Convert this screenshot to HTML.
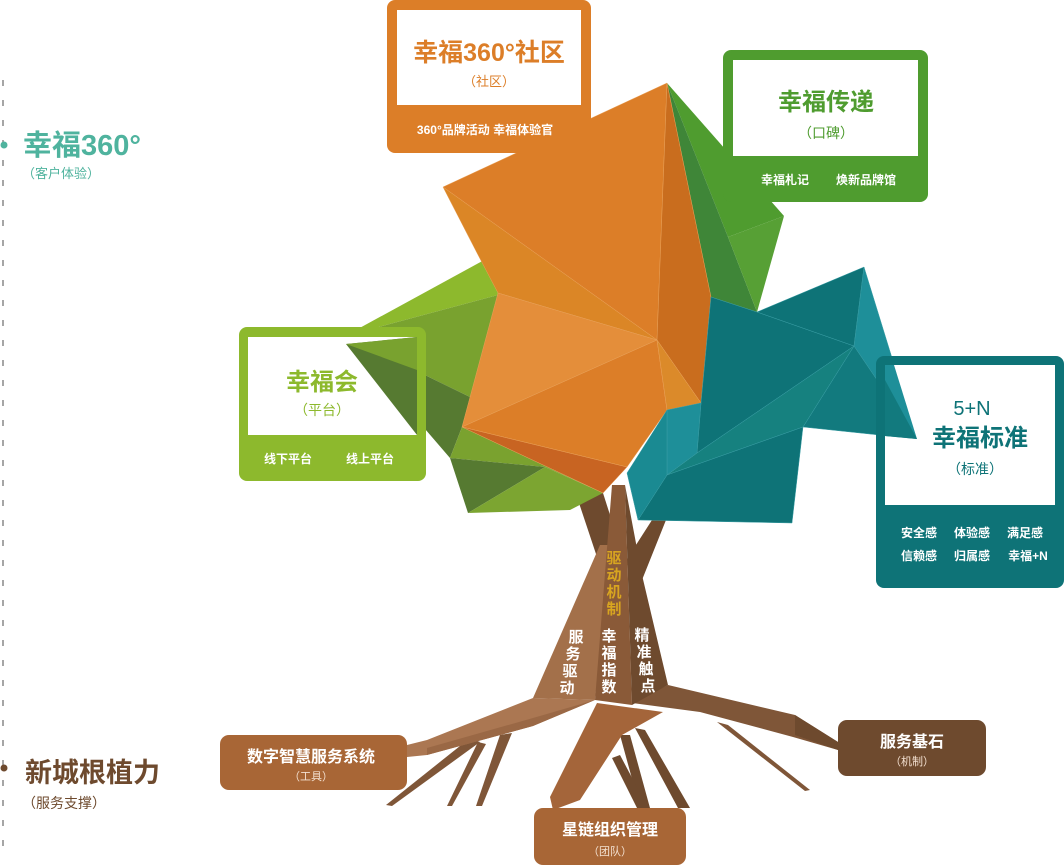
<!DOCTYPE html>
<html><head><meta charset="utf-8"><style>
html,body{margin:0;padding:0;background:#fff;}
svg{display:block;}
text{font-family:"Liberation Sans","Noto Sans CJK SC",sans-serif;}
.b{font-weight:bold;}
</style></head><body>
<svg width="1064" height="867" viewBox="0 0 1064 867" xmlns="http://www.w3.org/2000/svg">
<line x1="3" y1="80" x2="3" y2="860" stroke="#888" stroke-width="1.5" stroke-dasharray="6,14"/>
<circle cx="4" cy="145" r="3.5" fill="#4fb39e"/>
<circle cx="4" cy="768" r="3.5" fill="#6e4a2e"/>
<text class="b" x="23" y="155" font-size="29" fill="#4fb39e">幸福360°</text>
<text x="22" y="178" font-size="13" fill="#4fb39e">（客户体验）</text>
<text class="b" x="25" y="782" font-size="27" fill="#6e4a2e">新城根植力</text>
<text x="22" y="808" font-size="14" fill="#6e4a2e">（服务支撑）</text>

<g stroke="none">
<polygon points="470,738 480,742 392,806 386,805" fill="#7f5638"/>
<polygon points="478,742 486,744 452,806 447,806" fill="#7f5638"/>
<polygon points="500,735 512,733 482,806 476,806" fill="#7f5638"/>
<polygon points="620,735 630,735 650,808 640,808" fill="#6e4a2e"/>
<polygon points="635,728 645,730 690,808 678,808" fill="#6e4a2e"/>
<polygon points="612,758 620,755 648,808 638,810" fill="#6e4a2e"/>
<polygon points="717,722 728,725 810,790 805,791" fill="#7f5638"/>
<polygon points="533,698 595,700 533,726 427,755 407,757 407,745 427,740" fill="#ab7752"/>
<polygon points="595,700 533,726 427,755 427,748 533,718" fill="#9a6845"/>
<polygon points="597,703 663,712 622,735 580,800 553,810 550,797" fill="#a4653a"/>
<polygon points="632,703 668,685 795,715 838,742 838,750 793,737 700,712" fill="#7f5638"/>
<polygon points="795,715 838,742 838,750 795,735" fill="#6e4a2e"/>
</g>
<polygon points="578,500 603,493 625,562 604,578" fill="#6e4a2e"/>
<polygon points="652,520 666,520 642,580 625,562" fill="#6e4a2e"/>
<polygon points="600,545 612,545 595,700 533,698" fill="#a3704a"/>
<polygon points="612,485 625,485 632,705 595,700" fill="#8a5a38"/>
<polygon points="625,485 642,575 668,685 632,705" fill="#6e4a2e"/>

<polygon points="345,336 497,253 498,295" fill="#8db92d"/>
<polygon points="345,336 498,295 476,400" fill="#79a22f"/>
<polygon points="345,336 476,400 462,427 450,458" fill="#567a31"/>
<polygon points="462,427 450,458 545,467 603,493" fill="#7aa22f"/>
<polygon points="450,458 468,513 545,467" fill="#567a31"/>
<polygon points="468,513 570,510 603,493 545,467" fill="#7ca531"/>

<polygon points="667,83 784,216 728,237" fill="#4f9c2f"/>
<polygon points="667,83 728,237 757,312 711,297" fill="#3f8638"/>
<polygon points="728,237 784,216 757,312" fill="#57a035"/>

<g stroke="#e9a25a" stroke-width="0.5">
<polygon points="443,187 667,83 657,340" fill="#dc7e28"/>
<polygon points="667,83 711,297 701,403 657,340" fill="#c96d1e"/>
<polygon points="443,187 657,340 498,293 477,253" fill="#db8626"/>
<polygon points="498,293 657,340 462,427" fill="#e48e3a"/>
<polygon points="462,427 657,340 667,410 627,467" fill="#dc7e28"/>
<polygon points="657,340 701,403 667,410" fill="#db8a2a"/>
<polygon points="462,427 627,467 603,493" fill="#c86422"/>
</g>

<g stroke="#3a9ea5" stroke-width="0.5">
<polygon points="711,297 757,312 854,346 697,453 701,403" fill="#0e7377"/>
<polygon points="757,312 864,267 854,346" fill="#0e7377"/>
<polygon points="864,267 917,439 854,346" fill="#1e8f99"/>
<polygon points="854,346 917,439 803,427" fill="#127a7e"/>
<polygon points="854,346 803,427 667,475 697,453" fill="#16817f"/>
<polygon points="667,475 803,427 792,523 638,520" fill="#0e7377"/>
<polygon points="667,410 701,403 697,453 667,475" fill="#1e8f99"/>
<polygon points="627,473 667,410 667,475 638,520" fill="#1a8a92"/>
</g>

<g font-size="15" text-anchor="middle" class="b">
<text fill="#d8a520"><tspan x="614" y="563">驱</tspan><tspan x="614" y="580">动</tspan><tspan x="614" y="597">机</tspan><tspan x="614" y="614">制</tspan></text>
<text fill="#fff"><tspan x="576" y="642">服</tspan><tspan x="573" y="659">务</tspan><tspan x="570" y="676">驱</tspan><tspan x="567" y="693">动</tspan></text>
<text fill="#fff"><tspan x="609" y="641">幸</tspan><tspan x="609" y="658">福</tspan><tspan x="609" y="675">指</tspan><tspan x="609" y="692">数</tspan></text>
<text fill="#fff"><tspan x="642" y="640">精</tspan><tspan x="644" y="657">准</tspan><tspan x="646" y="674">触</tspan><tspan x="648" y="691">点</tspan></text>
</g>

<rect x="387" y="0" width="204" height="153" rx="8" fill="#dc7e28"/>
<rect x="397" y="10" width="184" height="95" fill="#fff"/>
<text class="b" x="489" y="61" font-size="25" fill="#dc7e28" text-anchor="middle">幸福360°社区</text>
<text x="489" y="86" font-size="13" fill="#dc7e28" text-anchor="middle">（社区）</text>
<text class="b" x="485" y="134" font-size="12" fill="#fff" text-anchor="middle">360°品牌活动  幸福体验官</text>

<rect x="723" y="50" width="205" height="152" rx="8" fill="#4f9c2f"/>
<rect x="733" y="60" width="185" height="96" fill="#fff"/>
<text class="b" x="826" y="110" font-size="24" fill="#4f9c2f" text-anchor="middle">幸福传递</text>
<text x="826" y="138" font-size="14" fill="#4f9c2f" text-anchor="middle">（口碑）</text>
<text class="b" x="785" y="184" font-size="12" fill="#fff" text-anchor="middle">幸福札记</text>
<text class="b" x="866" y="184" font-size="12" fill="#fff" text-anchor="middle">焕新品牌馆</text>

<rect x="239" y="327" width="187" height="154" rx="8" fill="#8db92d"/>
<rect x="248" y="337" width="169" height="98" fill="#fff"/>
<polygon points="346,344 417,337 417,435" fill="#567a31"/>
<polygon points="346,344 417,337 417,370" fill="#79a22f"/>
<text class="b" x="322" y="390" font-size="24" fill="#8db92d" text-anchor="middle">幸福会</text>
<text x="322" y="415" font-size="14" fill="#8db92d" text-anchor="middle">（平台）</text>
<text class="b" x="288" y="463" font-size="12" fill="#fff" text-anchor="middle">线下平台</text>
<text class="b" x="370" y="463" font-size="12" fill="#fff" text-anchor="middle">线上平台</text>

<rect x="876" y="356" width="188" height="232" rx="8" fill="#0e7377"/>
<rect x="885" y="365" width="170" height="140" fill="#fff"/>
<polygon points="885,365 894,365 917,439 885,436" fill="#1e8f99"/>
<polygon points="885,380 917,439 885,436" fill="#127a7e"/>
<text x="972" y="415" font-size="20" fill="#0e7377" text-anchor="middle">5+N</text>
<text class="b" x="980" y="446" font-size="24" fill="#0e7377" text-anchor="middle">幸福标准</text>
<text x="975" y="474" font-size="14" fill="#0e7377" text-anchor="middle">（标准）</text>
<g font-size="12" fill="#fff" text-anchor="middle" class="b">
<text x="919" y="537">安全感</text><text x="972" y="537">体验感</text><text x="1025" y="537">满足感</text>
<text x="919" y="560">信赖感</text><text x="972" y="560">归属感</text><text x="1028" y="560">幸福+N</text>
</g>

<rect x="220" y="735" width="187" height="55" rx="9" fill="#a86636"/>
<text class="b" x="311" y="762" font-size="16" fill="#fff" text-anchor="middle">数字智慧服务系统</text>
<text x="311" y="780" font-size="11" fill="#f3e0d0" text-anchor="middle">（工具）</text>
<rect x="534" y="808" width="152" height="57" rx="9" fill="#a86636"/>
<text class="b" x="610" y="835" font-size="16" fill="#fff" text-anchor="middle">星链组织管理</text>
<text x="610" y="855" font-size="11" fill="#f3e0d0" text-anchor="middle">（团队）</text>
<rect x="838" y="720" width="148" height="56" rx="9" fill="#6e4a2e"/>
<text class="b" x="912" y="747" font-size="16" fill="#fff" text-anchor="middle">服务基石</text>
<text x="912" y="765" font-size="11" fill="#f3e0d0" text-anchor="middle">（机制）</text>
</svg>
</body></html>
